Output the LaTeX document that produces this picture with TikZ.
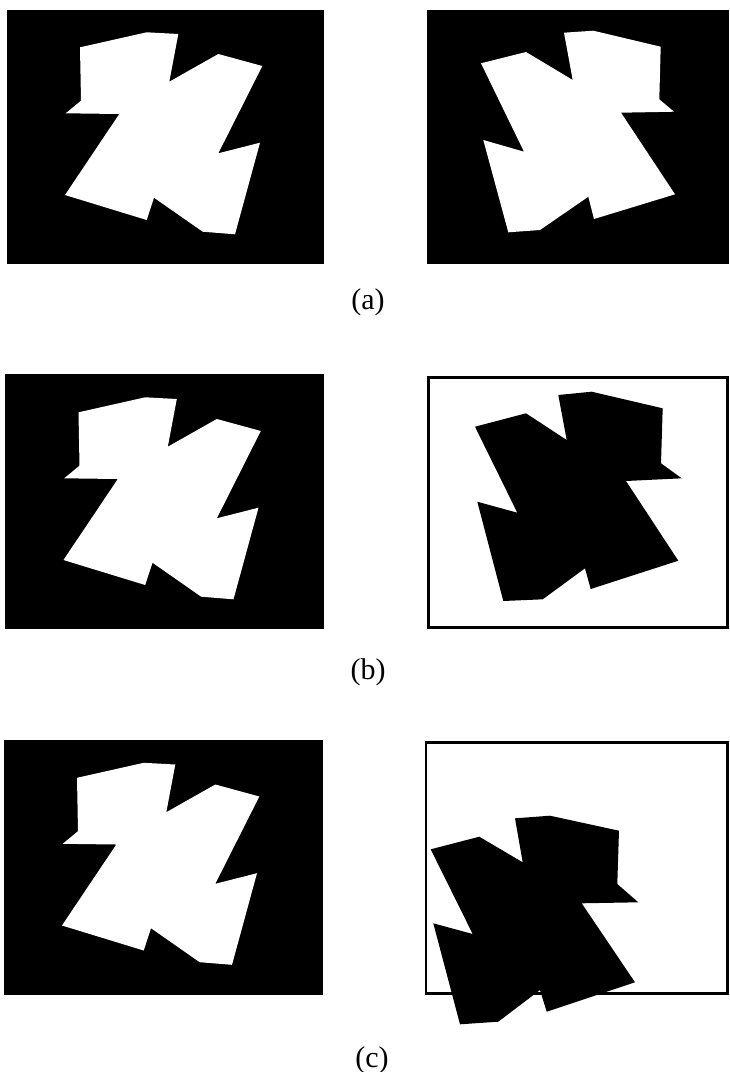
\documentclass[tikz,border=0pt]{standalone}
\usepackage{fontspec}
\setmainfont{Liberation Serif}
\begin{document}
\begin{tikzpicture}[x=1pt,y=-1pt,
  blackbox/.style={fill=black},
  framebox/.style={draw=black,line width=2.6pt,fill=white},
  whiteshape/.style={fill=white,line join=round},
  blackshape/.style={fill=black,line join=round},
  caption/.style={font=\fontsize{30}{33}\selectfont,inner sep=0pt}]
\useasboundingbox (0,0) rectangle (729,1072);
\newcommand{\leftshape}[1]{%
  \fill[#1] (80,47.3) -- (146.7,32.3) -- (178.3,34) -- (169.3,81.7) -- (218.3,54) -- (262.3,66) -- (218.3,153.3) -- (260,142.7) -- (235,234.3) -- (202.7,231.7) -- (154,197.7) -- (146.7,220) -- (65,195) -- (119.3,114) -- (65.7,113.3) -- (81,100.7) -- cycle;}
% (a)
\fill[blackbox] (7,10) rectangle (324,264);
\leftshape{whiteshape}
\fill[blackbox] (427,10) rectangle (729,264);
\fill[whiteshape] (481,63.3) -- (526,52) -- (572.7,80) -- (564,32.7) -- (593.3,30.7) -- (660.7,46.7) -- (659.3,99.3) -- (674,111.7) -- (621,112.7) -- (675,194.3) -- (594,219) -- (588.3,196.7) -- (540,230) -- (508.3,232.3) -- (483.3,140) -- (524,151.7) -- cycle;
\node[caption] (capa) at (368,302) {(a)};
% (b)
\fill[blackbox] (5,374) rectangle (324,629);
\begin{scope}[shift={(-1.5,365)}]
\leftshape{whiteshape}
\end{scope}
\draw[framebox] (428.5,377.5) rectangle (727.7,627.5);
\fill[blackshape] (475,426.7) -- (526,413.3) -- (566.7,440) -- (558.3,395) -- (591.7,391.7) -- (662.7,408.3) -- (661,463.3) -- (681.7,478.3) -- (626,481) -- (678.3,560.7) -- (590.7,589) -- (585,568.3) -- (542.7,599.3) -- (503.3,601) -- (477.3,501.7) -- (517.3,512.7) -- cycle;
\node[caption] (capb) at (368,672) {(b)};
% (c)
\fill[blackbox] (4,740) rectangle (323,995);
\begin{scope}[shift={(-3,730.5)}]
\leftshape{whiteshape}
\end{scope}
\draw[framebox] (426,742.5) rectangle (727.7,993.5);
\fill[blackshape] (430.7,849.3) -- (479.3,836.7) -- (522.7,862.3) -- (515,818.3) -- (550,815.7) -- (619,830.7) -- (617.3,884) -- (638.3,902.3) -- (581.7,903.3) -- (635,982.3) -- (546.7,1011.7) -- (540,990) -- (498.3,1021.7) -- (460,1024.3) -- (433.3,923.3) -- (472.7,934) -- cycle;
\node[caption] (capc) at (372,1060) {(c)};
\end{tikzpicture}
\end{document}
